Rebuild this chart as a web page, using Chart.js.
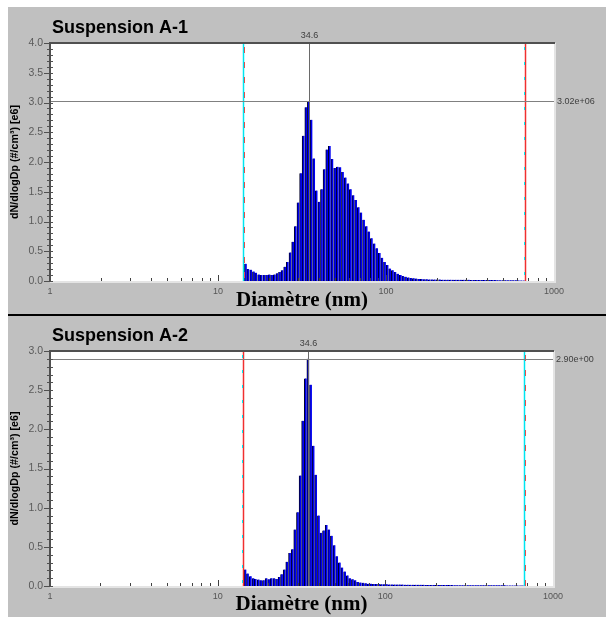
<!DOCTYPE html>
<html>
<head>
<meta charset="utf-8">
<script src="https://cdn.jsdelivr.net/npm/chart.js@4.4.0/dist/chart.umd.min.js"></script>
<style>
  html, body { margin: 0; padding: 0; background: #fff; }
  #wrap { position: absolute; left: 8px; top: 7px; width: 598px; height: 610px; background: #c0c0c0; }
  canvas { position: absolute; left: 0; }
  #c1 { top: 0; }
  #sep { position: absolute; left: 0; top: 307px; width: 598px; height: 2px; background: #000; }
  #c2 { top: 309px; }
</style>
</head>
<body>
<div id="wrap">
  <canvas id="c1" width="598" height="306"></canvas>
  <div id="sep"></div>
  <canvas id="c2" width="598" height="301"></canvas>
</div>
<script>
// SMPS channel midpoints (nm)
const diameters = [
  14.6, 15.1, 15.7, 16.3, 16.8, 17.5, 18.1, 18.8, 19.5, 20.2,
  20.9, 21.7, 22.5, 23.3, 24.1, 25.0, 25.9, 26.9, 27.9, 28.9,
  30.0, 31.1, 32.2, 33.4, 34.6, 35.9, 37.2, 38.5, 40.0, 41.4,
  42.9, 44.5, 46.1, 47.8, 49.6, 51.4, 53.3, 55.2, 57.3, 59.4,
  61.5, 63.8, 66.1, 68.5, 71.0, 73.7, 76.4, 79.1, 82.0, 85.1,
  88.2, 91.4, 94.7, 98.2, 101.8, 105.5, 109.4, 113.4, 117.6, 121.9,
  126.3, 131.0, 135.8, 140.7, 145.9, 151.2, 156.8, 162.5, 168.5, 174.7,
  181.1, 187.7, 194.6, 201.7, 209.1, 216.7, 224.7, 232.9, 241.4, 250.3,
  259.5, 269.0, 278.8, 289.0, 299.6, 310.6, 322.0, 333.8, 346.0, 358.7,
  371.8, 385.4, 399.5, 414.2, 429.4, 445.1, 461.4, 478.3, 495.8, 514.0,
  532.8, 552.3, 572.5, 593.5, 615.3, 637.8, 661.2
];

// dN/dlogDp [e6]
const valuesA1 = [
  0.29, 0.20, 0.19, 0.16, 0.14, 0.11, 0.10, 0.10, 0.10, 0.11,
  0.10, 0.11, 0.13, 0.15, 0.18, 0.24, 0.32, 0.48, 0.66, 0.92,
  1.32, 1.81, 2.44, 2.92, 3.02, 2.71, 2.06, 1.52, 1.33, 1.54,
  1.88, 2.21, 2.27, 2.05, 1.90, 1.92, 1.91, 1.83, 1.74, 1.64,
  1.54, 1.44, 1.36, 1.24, 1.15, 1.03, 0.92, 0.83, 0.72, 0.63,
  0.55, 0.47, 0.39, 0.32, 0.27, 0.21, 0.18, 0.15, 0.12, 0.10,
  0.085, 0.07, 0.06, 0.05, 0.045, 0.04, 0.035, 0.032, 0.03, 0.028,
  0.027, 0.026, 0.025, 0.025, 0.024, 0.023, 0.023, 0.022, 0.022, 0.021,
  0.021, 0.02, 0.02, 0.02, 0.019, 0.019, 0.018, 0.018, 0.018, 0.017,
  0.017, 0.016, 0.016, 0.016, 0.015, 0.015, 0.014, 0.014, 0.013, 0.013,
  0.012, 0.012, 0.011, 0.011, 0.010, 0.010, 0.009
];

const valuesA2 = [
  0.21, 0.16, 0.125, 0.10, 0.09, 0.083, 0.075, 0.075, 0.10, 0.085,
  0.10, 0.10, 0.09, 0.115, 0.15, 0.21, 0.31, 0.42, 0.47, 0.72,
  0.94, 1.41, 2.11, 2.65, 2.90, 2.57, 1.79, 1.42, 0.90, 0.68,
  0.71, 0.78, 0.72, 0.64, 0.52, 0.38, 0.30, 0.235, 0.185, 0.135,
  0.10, 0.085, 0.075, 0.05, 0.045, 0.04, 0.035, 0.03, 0.03, 0.027,
  0.025, 0.024, 0.023, 0.022, 0.021, 0.02, 0.02, 0.019, 0.019, 0.018,
  0.018, 0.017, 0.017, 0.016, 0.016, 0.016, 0.015, 0.015, 0.015, 0.014,
  0.014, 0.014, 0.013, 0.013, 0.013, 0.013, 0.012, 0.012, 0.012, 0.012,
  0.011, 0.011, 0.011, 0.011, 0.010, 0.010, 0.010, 0.010, 0.010, 0.009,
  0.009, 0.009, 0.009, 0.009, 0.008, 0.008, 0.008, 0.008, 0.008, 0.008,
  0.007, 0.007, 0.007, 0.007, 0.006, 0.006, 0.006
];

const xLabelValues = [1, 10, 100, 1000];
const panelTitles = ['Suspension A-1', 'Suspension A-2'];
const yMaxes = [4.0, 3.0];
const cursorDiameter = 34.6;
const peaksY = [3.02, 2.90];
const peakLabels = ['3.02e+06', '2.90e+00'];
const boundsA1 = [14.1, 673];
const boundsA2 = [14.1, 670];

Chart.defaults.font.family = "'Liberation Sans', Arial, sans-serif";

function hLine(ctx, x1, x2, y) {
  ctx.beginPath(); ctx.moveTo(x1, y); ctx.lineTo(x2, y); ctx.stroke();
}
function vLine(ctx, x, y1, y2) {
  ctx.beginPath(); ctx.moveTo(x, y1); ctx.lineTo(x, y2); ctx.stroke();
}

// two-colour cursor bound line: solid base + dashes of the other colour
function boundLine(ctx, px, top, bottom, st) {
  px = Math.round(px);
  ctx.setLineDash([]);
  ctx.lineWidth = st.solidWidth;
  ctx.strokeStyle = st.solid;
  vLine(ctx, px + 0.5, top, bottom);
  ctx.lineWidth = 1;
  ctx.strokeStyle = st.dash;
  ctx.setLineDash(st.pattern);
  vLine(ctx, px + st.dashOffset, top + 4, bottom);
  ctx.setLineDash([]);
}

const decor = {
  id: 'decor',
  beforeDraw(chart) {
    const { ctx, chartArea: a } = chart;
    ctx.save();
    ctx.fillStyle = '#fff';
    ctx.fillRect(a.left, a.top, a.right - a.left, a.bottom - a.top);
    ctx.restore();
  },
  afterDatasetsDraw(chart, args, o) {
    const { ctx, chartArea: a, scales: { x, y } } = chart;
    ctx.save();

    // bounds
    o.bounds.forEach((b, i) => boundLine(ctx, x.getPixelForValue(b), a.top, a.bottom, o.boundStyles[i]));

    // cursor lines
    ctx.lineWidth = 1;
    ctx.strokeStyle = '#6a6a6a';
    const cx = Math.round(x.getPixelForValue(o.cursor)) + 0.5;
    vLine(ctx, cx, a.top, a.bottom);
    ctx.strokeStyle = '#808080';
    const cy = Math.round(y.getPixelForValue(o.peak)) + 0.5;
    hLine(ctx, a.left, a.right, cy);

    // frame
    ctx.strokeStyle = '#e4e4e4';
    ctx.lineWidth = 2;
    vLine(ctx, a.right + 1, a.top, a.bottom + 2);
    hLine(ctx, a.left, a.right + 2, a.bottom + 1);
    ctx.strokeStyle = '#505050';
    hLine(ctx, a.left - 1, a.right + 1, a.top);
    vLine(ctx, a.left, a.top - 1, a.bottom + 1);

    // y ticks (major 0.5, minor 0.1)
    ctx.lineWidth = 1;
    ctx.strokeStyle = '#505050';
    for (let k = 0; k <= Math.round(o.yMax * 10); k++) {
      const py = Math.round(y.getPixelForValue(k / 10)) + 0.5;
      const major = k % 5 === 0;
      hLine(ctx, a.left - (major ? 6 : 3), a.left + 3, py);
    }

    // x ticks
    ctx.strokeStyle = '#404040';
    for (let dec = 1; dec <= 100; dec *= 10) {
      for (let m = 1; m <= 9; m++) {
        const v = dec * m;
        if (v === 1) continue;
        const px = Math.round(x.getPixelForValue(v)) + 0.5;
        vLine(ctx, px, a.bottom - (m === 1 ? 6 : 3), a.bottom);
      }
    }

    // texts
    ctx.fillStyle = '#404040';
    ctx.font = "9px 'Liberation Sans', Arial, sans-serif";
    ctx.textAlign = 'center';
    ctx.textBaseline = 'middle';
    ctx.fillText(String(o.cursor), cx, a.top - 7);
    ctx.textAlign = 'left';
    ctx.fillText(o.peakLabel, a.right + 3, cy);

    ctx.fillStyle = '#000';
    ctx.font = "bold 18px 'Liberation Sans', Arial, sans-serif";
    ctx.textBaseline = 'alphabetic';
    ctx.fillText(o.title, 44, a.top - 10);
    ctx.restore();
  }
};

function makePanel(id, values, idx, bounds, boundStyles, pad) {
  const canvas = document.getElementById(id);
  return new Chart(canvas, {
    type: 'bar',
    data: {
      datasets: [{
        data: diameters.map((d, i) => ({ x: d, y: values[i] })),
        backgroundColor: '#0000f4',
        borderColor: '#000028',
        borderWidth: { left: 1, top: 0, right: 0, bottom: 0 },
        barThickness: 2.4
      }]
    },
    options: {
      responsive: false,
      animation: false,
      devicePixelRatio: 1,
      layout: { padding: { top: pad.top, right: pad.right, left: 0, bottom: 0 } },
      scales: {
        x: {
          type: 'logarithmic',
          min: 1, max: 1000,
          grid: { display: false, drawTicks: false },
          border: { display: false },
          afterFit: s => { s.height = pad.xh; },
          ticks: {
            autoSkip: false, maxRotation: 0, padding: 5,
            color: '#555', font: { size: 9 },
            callback: v => xLabelValues.includes(v) ? String(v) : ''
          },
          title: {
            display: true, text: 'Diamètre (nm)', color: '#000',
            font: { family: "'Liberation Serif', 'Times New Roman', serif", size: 21, weight: 'bold' },
            padding: { top: 1.5, bottom: 0 }
          }
        },
        y: {
          min: 0, max: yMaxes[idx],
          grid: { display: false, drawTicks: false },
          border: { display: false },
          afterFit: s => { s.width = 42; },
          ticks: {
            stepSize: 0.5, padding: 7,
            color: '#5a5a5a', font: { size: 10.5 },
            callback: v => v.toFixed(1)
          },
          title: {
            display: true, text: 'dN/dlogDp (#/cm³) [e6]', color: '#000',
            font: { size: 10.7, weight: 'bold' },
            padding: { top: 0.5, bottom: 0 }
          }
        }
      },
      plugins: {
        legend: { display: false },
        tooltip: { enabled: false },
        decor: {
          title: panelTitles[idx],
          cursor: cursorDiameter,
          peak: peaksY[idx],
          peakLabel: peakLabels[idx],
          yMax: yMaxes[idx],
          bounds: bounds,
          boundStyles: boundStyles
        }
      }
    },
    plugins: [decor]
  });
}

const cyanMain = { solid: '#00e4f0', solidWidth: 1.5, dash: '#e05050', pattern: [6, 9], dashOffset: 1.5 };
const redMain = { solid: '#f03030', solidWidth: 1.5, dash: '#00f0f8', pattern: [3, 12], dashOffset: -0.5 };

makePanel('c1', valuesA1, 0, boundsA1, [cyanMain, redMain], { top: 36, right: 52, xh: 32 });
makePanel('c2', valuesA2, 1, boundsA2, [redMain, cyanMain], { top: 35, right: 53, xh: 31 });
</script>
</body>
</html>
